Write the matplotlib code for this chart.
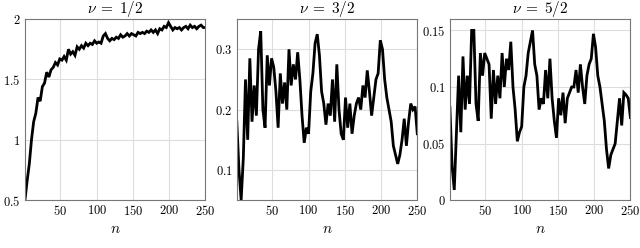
import numpy as np
import matplotlib
matplotlib.use("Agg")
import matplotlib.pyplot as plt
from matplotlib.ticker import FuncFormatter

plt.rcParams["mathtext.fontset"] = "cm"
plt.rcParams["font.family"] = "serif"

# sample index (every third step)
n = np.arange(1, 251, 3)

nu_half = [0.50, 0.66, 0.80, 1.00, 1.15, 1.22, 1.35, 1.32, 1.44, 1.47,
           1.56, 1.52, 1.58, 1.60, 1.64, 1.62, 1.67, 1.66, 1.69, 1.66,
           1.75, 1.71, 1.73, 1.70, 1.77, 1.75, 1.78, 1.76, 1.80, 1.78,
           1.80, 1.79, 1.82, 1.80, 1.81, 1.80, 1.86, 1.88, 1.84, 1.82,
           1.84, 1.83, 1.85, 1.84, 1.87, 1.85, 1.86, 1.88, 1.86, 1.88,
           1.87, 1.86, 1.89, 1.88, 1.89, 1.88, 1.90, 1.89, 1.91, 1.89,
           1.91, 1.88, 1.92, 1.91, 1.94, 1.93, 1.97, 1.94, 1.91, 1.93,
           1.92, 1.93, 1.91, 1.93, 1.94, 1.92, 1.95, 1.93, 1.94, 1.92,
           1.94, 1.95, 1.93, 1.93]

nu_3half = [0.18, 0.10, 0.05, 0.12, 0.25, 0.15, 0.285, 0.18, 0.24, 0.19,
            0.30, 0.33, 0.20, 0.17, 0.29, 0.24, 0.285, 0.27, 0.23, 0.17,
            0.26, 0.21, 0.245, 0.20, 0.30, 0.24, 0.275, 0.25, 0.295, 0.25,
            0.19, 0.145, 0.17, 0.16, 0.23, 0.26, 0.31, 0.325, 0.29, 0.23,
            0.21, 0.175, 0.21, 0.19, 0.25, 0.18, 0.275, 0.20, 0.16, 0.15,
            0.22, 0.17, 0.21, 0.16, 0.19, 0.21, 0.22, 0.20, 0.24, 0.22,
            0.265, 0.23, 0.19, 0.22, 0.25, 0.26, 0.315, 0.30, 0.25, 0.22,
            0.20, 0.18, 0.14, 0.125, 0.11, 0.125, 0.15, 0.185, 0.14, 0.18,
            0.21, 0.20, 0.205, 0.16]

nu_5half = [0.082, 0.03, 0.009, 0.06, 0.11, 0.06, 0.127, 0.08, 0.11, 0.085,
            0.15, 0.15, 0.085, 0.07, 0.13, 0.11, 0.13, 0.125, 0.12, 0.072,
            0.115, 0.085, 0.11, 0.09, 0.13, 0.10, 0.125, 0.115, 0.14, 0.10,
            0.08, 0.052, 0.06, 0.065, 0.10, 0.11, 0.13, 0.14, 0.15, 0.12,
            0.11, 0.08, 0.09, 0.085, 0.115, 0.09, 0.125, 0.09, 0.07, 0.055,
            0.09, 0.075, 0.095, 0.068, 0.09, 0.095, 0.10, 0.10, 0.115, 0.095,
            0.12, 0.10, 0.085, 0.11, 0.12, 0.125, 0.147, 0.135, 0.11, 0.10,
            0.085, 0.07, 0.045, 0.028, 0.04, 0.045, 0.05, 0.07, 0.09, 0.066,
            0.095, 0.093, 0.09, 0.073]

titles = [r"$\nu \;=\; 1/2$", r"$\nu \;=\; 3/2$", r"$\nu \;=\; 5/2$"]
series = [nu_half, nu_3half, nu_5half]
ylims = [(0.5, 2.0), (0.05, 0.35), (0.0, 0.16)]
yticks = [[0.5, 1, 1.5, 2], [0.1, 0.2, 0.3], [0, 0.05, 0.1, 0.15]]
xticks = [50, 100, 150, 200, 250]

fig = plt.figure(figsize=(6.4, 2.48), dpi=100)
lefts = [0.039, 0.370, 0.703]

fmt = FuncFormatter(lambda v, p: f"${v:g}$")

for left, title, y, yl, yt in zip(lefts, titles, series, ylims, yticks):
    ax = fig.add_axes([left, 0.193, 0.282, 0.730])
    ax.plot(n, y, color="black", linewidth=2.0, solid_joinstyle="miter")
    ax.set_xlim(1, 250)
    ax.set_ylim(*yl)
    ax.set_xticks(xticks)
    ax.set_yticks(yt)
    ax.xaxis.set_major_formatter(fmt)
    ax.yaxis.set_major_formatter(fmt)
    ax.grid(True, color="#dddddd", linewidth=0.8)
    ax.set_axisbelow(True)
    ax.tick_params(length=0, labelsize=9, pad=3)
    for s in ax.spines.values():
        s.set_color("#777777")
        s.set_linewidth(0.8)
    ax.set_title(title, fontsize=11, pad=3)
    ax.set_xlabel(r"$n$", fontsize=11, labelpad=3)

fig.savefig("out.png", dpi=100)
